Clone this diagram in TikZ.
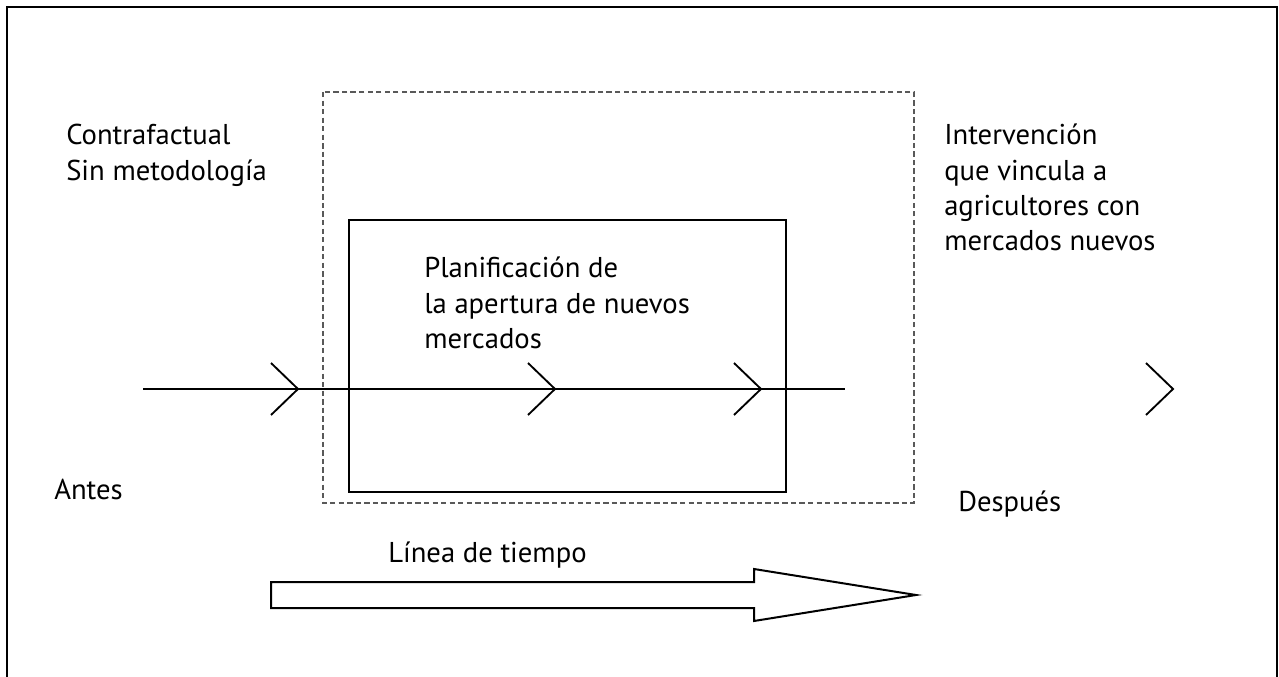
\documentclass[tikz,border=0pt]{standalone}
\usepackage{fontspec}
\setmainfont{PT Sans}
\begin{document}
\begin{tikzpicture}[x=0.75pt,y=-0.75pt,
  lbl/.style={anchor=north west,inner sep=0pt,align=left,font=\fontsize{21.5}{26.5}\selectfont},
  frameline/.style={line width=1.5pt,black},
  boxline/.style={line width=1.6pt,black},
  dashline/.style={line width=1.1pt,color=black!65,dash pattern=on 4pt off 2.4pt},
  chev/.style={line width=1.4pt,black,line join=miter},
  bigarrow/.style={line width=1.5pt,black,fill=white,line join=miter}]
\useasboundingbox (0,0) rectangle (1279,677);
% outer frame (open at bottom)
\draw[frameline] (7,680) -- (7,7) -- (1277,7) -- (1277,680);
% dashed intervention box
\draw[dashline] (323,92) rectangle (914,503);
% solid planning box
\draw[boxline] (349,220) rectangle (786,492);
% timeline with chevrons
\coordinate (tl0) at (143,389);
\coordinate (tl1) at (845,389);
\draw[line width=1.4pt] (tl0) -- (tl1);
\foreach \t in {298,555,761,1173}{
  \draw[chev] (\t-27,363) -- (\t,389) -- (\t-27,415);
}
% big arrow
\draw[bigarrow] (271,582) -- (754,582) -- (754,569) -- (916,595) -- (754,621) -- (754,608) -- (271,608) -- cycle;
% labels
\node[lbl] (contra) at (66,124) {Contrafactual\\Sin metodología};
\node[lbl] (plan) at (424,257) {Planificación de\\la apertura de nuevos\\mercados};
\node[lbl] (interv) at (944,124) {Intervención\\que vincula a\\agricultores con\\mercados nuevos};
\node[lbl] (antes) at (54,479) {Antes};
\node[lbl] (despues) at (958,491) {Después};
\node[lbl] (linea) at (388,542) {Línea de tiempo};
\end{tikzpicture}
\end{document}
